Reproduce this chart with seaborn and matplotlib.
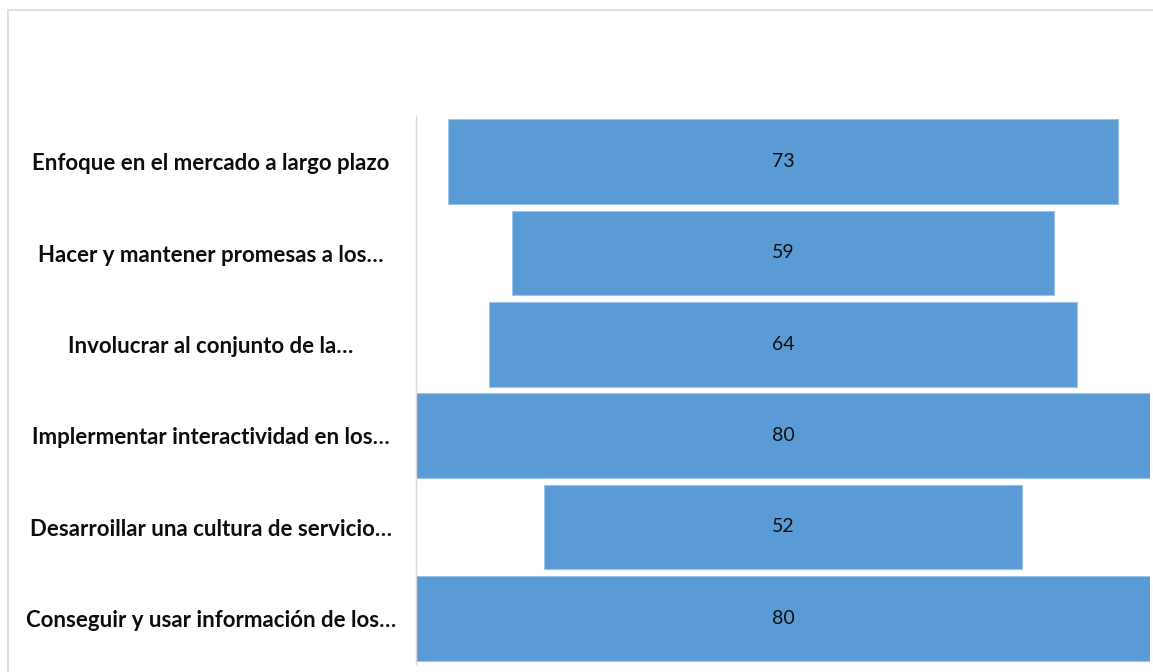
import matplotlib
matplotlib.use("Agg")
import matplotlib.pyplot as plt
import matplotlib.patches as mpatches
import seaborn as sns
import pandas as pd

categories = [
    "Enfoque en el mercado a largo plazo",
    "Hacer y mantener promesas a los…",
    "Involucrar al conjunto de la…",
    "Implermentar interactividad en los…",
    "Desarroillar una cultura de servicio…",
    "Conseguir y usar información de los…",
]
values = [73, 59, 64, 80, 52, 80]

df = pd.DataFrame({"categoria": categories, "valor": values})
vmax = max(values)

sns.set_style("white")
plt.rcParams["font.family"] = ["Lato", "DejaVu Sans"]

fig = plt.figure(figsize=(11.53, 6.72), dpi=100)
ax = fig.add_axes([416 / 1153, 8 / 672, 734 / 1153, 548 / 672])

sns.barplot(data=df, x="valor", y="categoria", orient="h", color="#5B9BD5",
            saturation=1, width=0.93, edgecolor="#9DC3E6", linewidth=0.8, ax=ax)

# shift each bar so it is centred (funnel layout)
for patch, v in zip(ax.patches, values):
    patch.set_x((vmax - v) / 2)

ax.bar_label(ax.containers[0], labels=[str(v) for v in values],
             label_type="center", fontsize=14, color="#111111")

ax.set_xlim(0, vmax)
ax.set_ylim(len(values) - 0.5, -0.5)
ax.set_xlabel("")
ax.set_ylabel("")
ax.set_xticks([])
ax.tick_params(axis="y", length=0, pad=147.6, labelsize=16)
for lbl in ax.get_yticklabels():
    lbl.set_horizontalalignment("center")
    lbl.set_fontweight("bold")
    lbl.set_color("#0d0d0d")

for side in ["top", "right", "bottom"]:
    ax.spines[side].set_visible(False)
ax.spines["left"].set_color("#d9d9d9")
ax.spines["left"].set_linewidth(1)

# outer chart border (cropped at right and bottom in the reference)
fig.patches.append(mpatches.Rectangle((8 / 1153, -0.1), 1.2, 1 - 10 / 672 + 0.1,
                                      transform=fig.transFigure, fill=False,
                                      edgecolor="#d9d9d9", linewidth=1.2))

fig.savefig("out.png", dpi=100)
